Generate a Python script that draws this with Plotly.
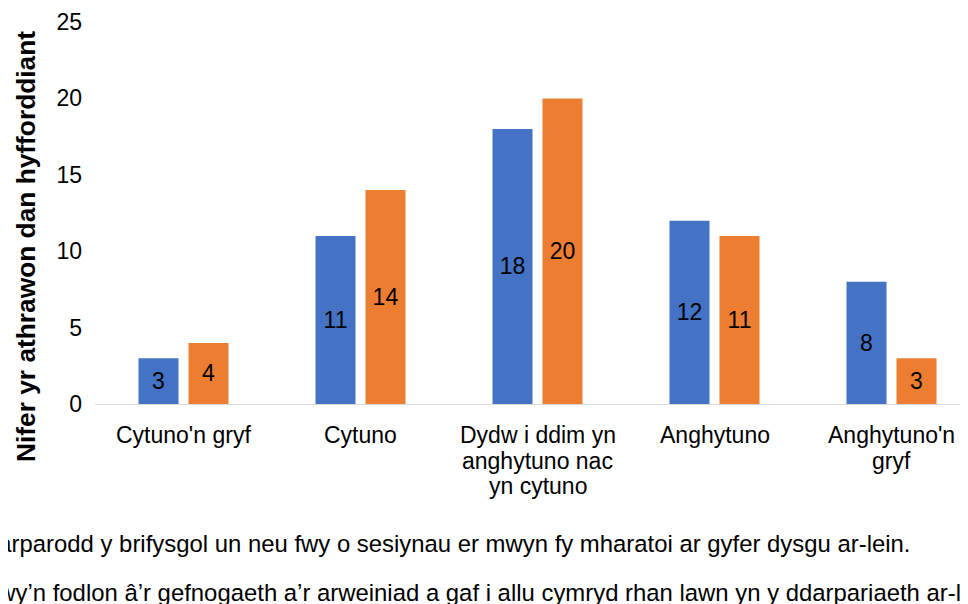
import plotly.graph_objects as go

# Likert categories along the x axis
categories = [
    "Cytuno'n gryf",
    "Cytuno",
    "Dydw i ddim yn<br>anghytuno nac<br>yn cytuno",
    "Anghytuno",
    "Anghytuno'n<br>gryf",
]

series_names = [
    "Darparodd y brifysgol un neu fwy o sesiynau er mwyn fy mharatoi ar gyfer dysgu ar-lein.",
    "Rwy\u2019n fodlon \u00e2\u2019r gefnogaeth a\u2019r arweiniad a gaf i allu cymryd rhan lawn yn y ddarpariaeth ar-lein.",
]
sessions = [3, 11, 18, 12, 8]
support = [4, 14, 20, 11, 3]

y_title = "Nifer yr athrawon dan hyfforddiant"

FONT = "Arial, Liberation Sans, sans-serif"
COLORS = ["#4472C4", "#ED7D31"]

# page body adds an 8px margin, so work in screen pixels and shift back
OFF = 8
W, H = 968, 604
PLOT_L, PLOT_R, PLOT_T, PLOT_B = 95, 968, 22, 404  # screen pixels
L = PLOT_L - OFF
R = W - (PLOT_R - OFF)
T = PLOT_T - OFF
B = H - (PLOT_B - OFF)
PW, PH = W - L - R, H - T - B


def px_x(p):
    return (p - OFF - L) / PW


def px_y(p):
    return (H - B - (p - OFF)) / PH


fig = go.Figure()
for name, vals, col in zip(series_names, [sessions, support], COLORS):
    fig.add_trace(
        go.Bar(
            x=list(range(len(categories))),
            y=vals,
            name=name,
            marker=dict(color=col, line=dict(width=0)),
            text=vals,
            textposition="inside",
            insidetextanchor="middle",
            textfont=dict(family=FONT, size=23, color="black"),
            hoverinfo="skip",
        )
    )

fig.update_layout(
    width=W,
    height=H,
    margin=dict(l=L, r=R, t=T, b=B, autoexpand=False),
    barmode="group",
    bargap=0.435,
    bargroupgap=0.2,
    plot_bgcolor="white",
    paper_bgcolor="white",
    showlegend=False,
    font=dict(family=FONT, size=23, color="black"),
)

fig.update_xaxes(
    range=[-0.5, -0.5 + PW / 177],
    tickmode="array",
    tickvals=list(range(len(categories))),
    showticklabels=False,
    showline=True,
    linecolor="#d9d9d9",
    linewidth=1,
    showgrid=False,
    ticks="",
)
fig.update_yaxes(
    range=[0, 25],
    dtick=5,
    showgrid=False,
    zeroline=False,
    showline=False,
    ticks="",
    tickfont=dict(family=FONT, size=23, color="black"),
    ticklabelstandoff=12,
)

# category labels, one line at a time for tight line spacing
for i, cat in enumerate(categories):
    for j, line in enumerate(cat.split("<br>")):
        fig.add_annotation(
            text=line,
            xref="x", yref="paper",
            x=i, y=px_y(435 + 25.5 * j),
            xanchor="center", yanchor="middle",
            showarrow=False,
            font=dict(family=FONT, size=23, color="black"),
        )

# axis title
fig.add_annotation(
    text="<b>" + y_title + "</b>",
    xref="paper", yref="paper",
    x=px_x(26), y=px_y(247),
    xanchor="center", yanchor="middle",
    textangle=-90,
    showarrow=False,
    font=dict(family=FONT, size=26.3, color="black"),
)

# legend text (markers lie off the left edge of the crop)
for name, ypx in zip(series_names, [543, 592]):
    fig.add_annotation(
        text=name,
        xref="paper", yref="paper",
        x=px_x(-21), y=px_y(ypx),
        xanchor="left", yanchor="middle",
        showarrow=False,
        font=dict(family=FONT, size=23.9, color="black"),
    )

fig.write_html("out.html")
